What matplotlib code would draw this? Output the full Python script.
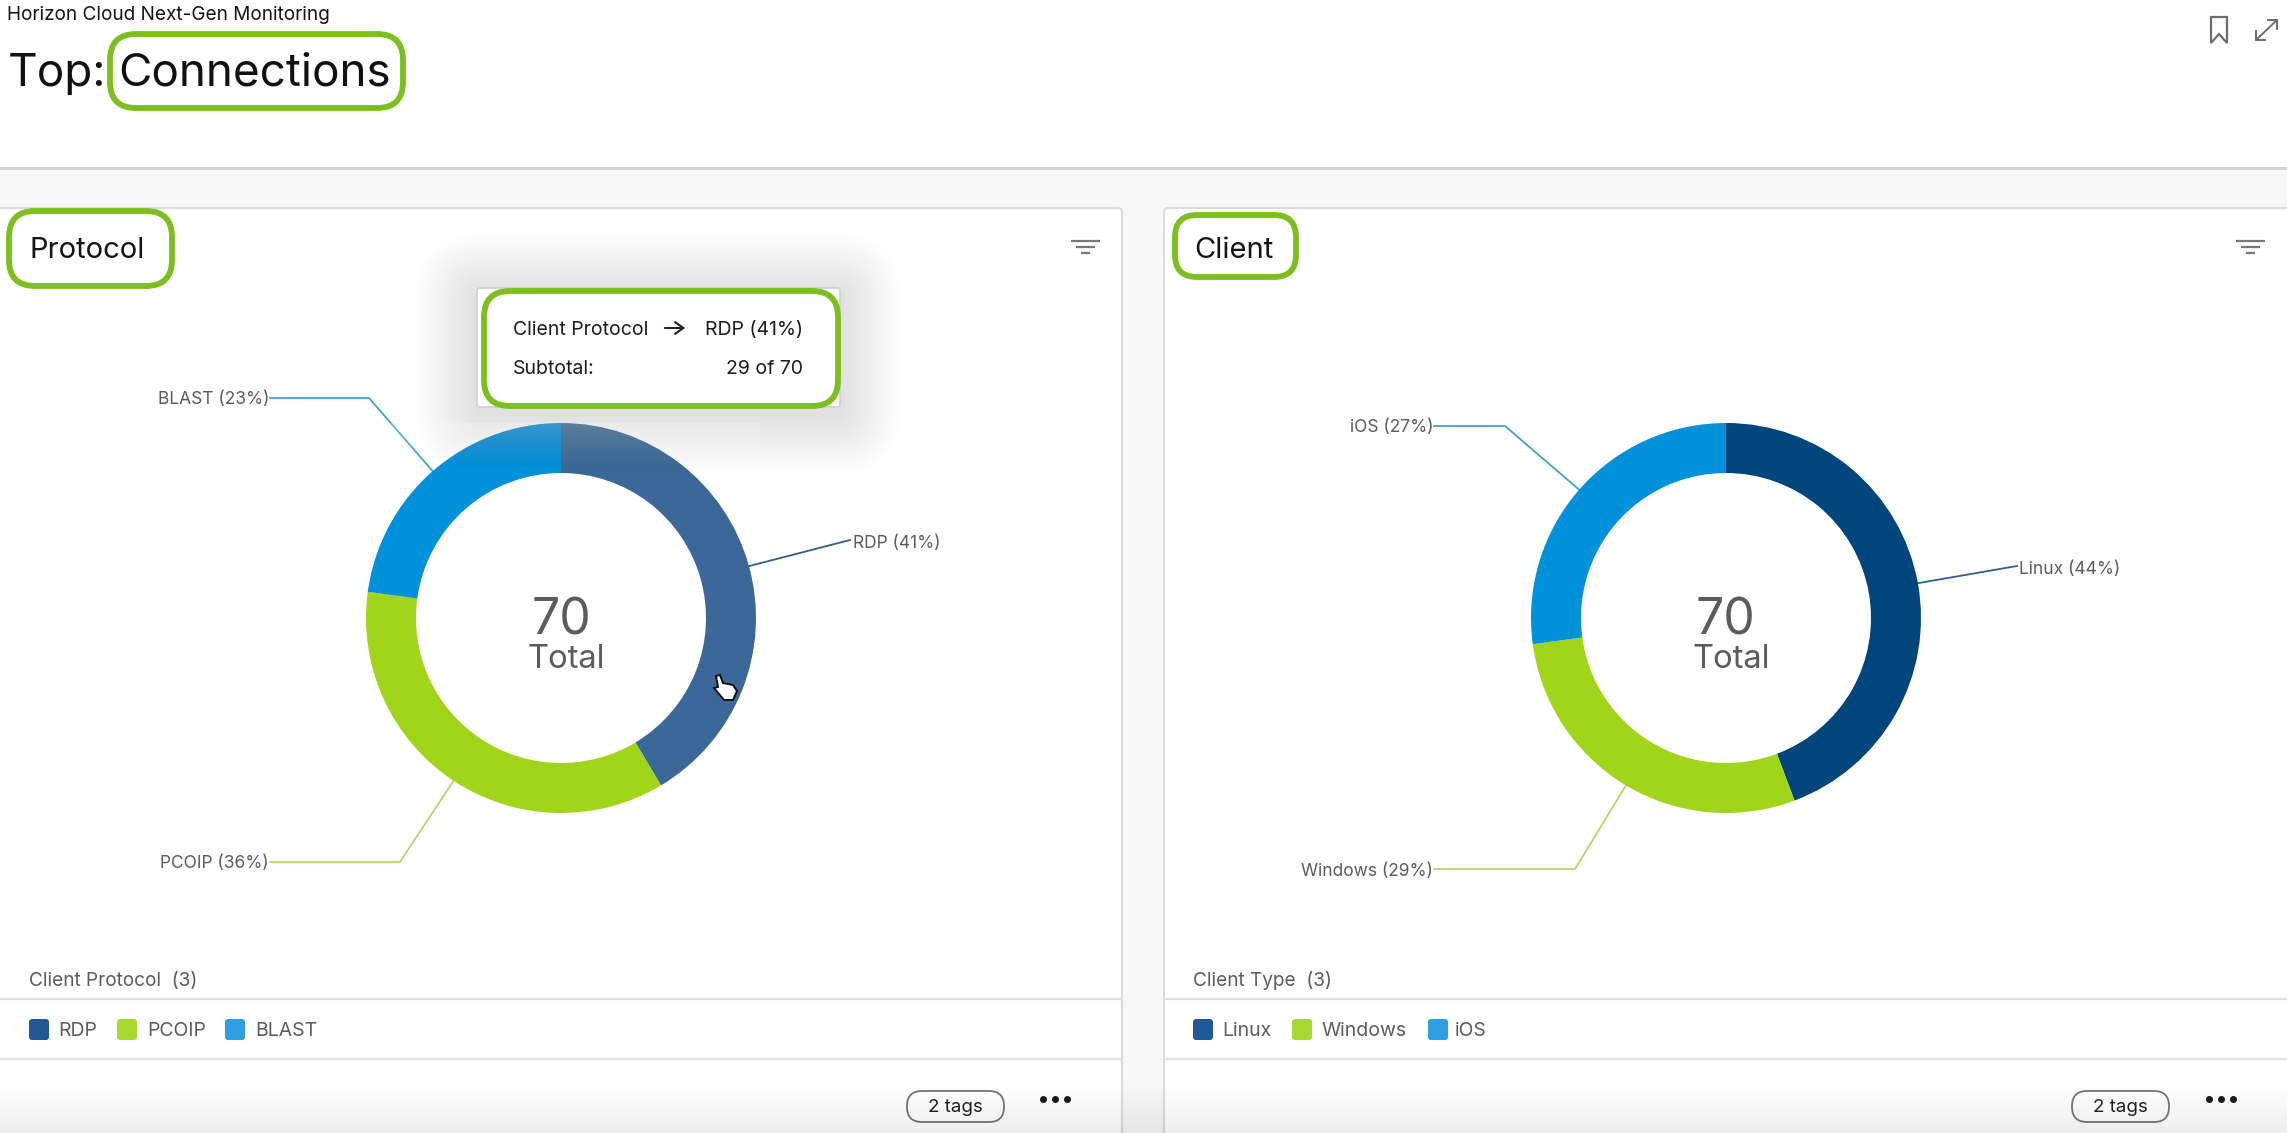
import numpy as np
import matplotlib
matplotlib.use('Agg')
import matplotlib.pyplot as plt
from matplotlib.patches import FancyBboxPatch, Rectangle, Polygon

plt.rcParams['font.family'] = ['Inter', 'DejaVu Sans']

# --- DATA ---
protocol_names = ['RDP', 'PCOIP', 'BLAST']
protocol_values = [29, 25, 16]
protocol_pcts = [41, 36, 23]
client_names = ['Linux', 'Windows', 'iOS']
client_values = [31, 20, 19]
client_pcts = [44, 29, 27]
total = 70

# --- CONFIGURATION ---
W, H = 2287, 1133
GREEN = '#7cbf1e'
GREY = '#5c5c5c'
OUTER_R = 195
INNER_R = 145

fig = plt.figure(figsize=(W / 100, H / 100), dpi=100, facecolor='white')


def px_axes(z):
    """Full figure axes that work in image pixels"""
    a = fig.add_axes([0, 0, 1, 1], zorder=z)
    a.set_xlim(0, W)
    a.set_ylim(H, 0)
    a.axis('off')
    a.patch.set_alpha(0)
    return a


base = px_axes(0)
top = px_axes(2)


def rbox(a, x0, y0, x1, y1, r, **kw):
    p = FancyBboxPatch((x0 + r, y0 + r), x1 - x0 - 2 * r, y1 - y0 - 2 * r,
                       boxstyle='round,pad=%f,rounding_size=%f' % (r, r), **kw)
    a.add_patch(p)
    return p


def green_box(x0, y0, x1, y1, r=24):
    rbox(top, x0, y0, x1, y1, r, fc='none', ec=GREEN, lw=4.2, zorder=8)


def filter_icon(x, y):
    for dy, x0, x1 in [(0, 0, 29), (6, 5, 24), (12, 10, 19)]:
        top.plot([x + x0, x + x1], [y + dy, y + dy], color='#777777', lw=1.6, solid_capstyle='butt')


def donut(cx, cy, values, colors):
    a = fig.add_axes([(cx - OUTER_R) / W, 1 - (cy + OUTER_R) / H, 2 * OUTER_R / W, 2 * OUTER_R / H], zorder=1)
    wedges, _ = a.pie(values, colors=colors, startangle=90, counterclock=False, radius=1,
                      wedgeprops={'width': (OUTER_R - INNER_R) / OUTER_R, 'linewidth': 0})
    a.set_xlim(-1, 1)
    a.set_ylim(-1, 1)
    a.patch.set_alpha(0)
    return wedges


def leader(wedge, cx, cy, color, elbow, end):
    """Line from the outer rim at the middle of a slice out to its label"""
    mid = np.deg2rad((wedge.theta1 + wedge.theta2) / 2)
    sx, sy = cx + OUTER_R * np.cos(mid), cy - OUTER_R * np.sin(mid)
    pts = [(sx, sy)] + ([elbow] if elbow else []) + [end]
    base.plot([p[0] for p in pts], [p[1] for p in pts], color=color, lw=1.3, zorder=3)


def panel(x0, x1, title, title_x, cx, names, values, pcts, colors, swatch_colors, leaders,
          axis_label, text_x, swatch_x, label_x, pill_x, dots_x, icon_x):
    rbox(base, x0, 208, x1, 1160, 4, fc='white', ec='#dcdcdc', lw=1.5, zorder=1)
    top.text(title_x, 251, title, fontsize=21, color='#151515', va='center', ha='left')
    filter_icon(icon_x, 241)

    wedges = donut(cx, 618, values, colors)
    for w, name, pct, (color, elbow, end, lx, ha, ly) in zip(wedges, names, pcts, leaders):
        leader(w, cx, 618, color, elbow, end)
        base.text(lx, ly + 2, '%s (%d%%)' % (name, pct), fontsize=12.5, color=GREY, ha=ha, va='center', zorder=4)

    top.text(cx, 621, str(total), fontsize=36, color=GREY, ha='center', va='center', zorder=6)
    top.text(cx + 5, 660, 'Total', fontsize=23.5, color=GREY, ha='center', va='center', zorder=6)

    base.text(text_x, 981, axis_label, fontsize=13.7, color=GREY, va='center', zorder=4)
    for y in (999, 1059):
        base.plot([x0, x1], [y, y], color='#e2e2e2', lw=1.6, zorder=3)
    for sx, lx, name, c in zip(swatch_x, label_x, names, swatch_colors):
        rbox(base, sx, 1019, sx + 20, 1040, 3, fc=c, ec='none', zorder=4)
        base.text(lx, 1031, name, fontsize=14, color=GREY, va='center', zorder=4)

    rbox(base, pill_x, 1091, pill_x + 97, 1122, 15, fc='white', ec='#777777', lw=1.3, zorder=4)
    base.text(pill_x + 48, 1108, '2 tags', fontsize=13.5, color='#222222', ha='center', va='center', zorder=5)
    base.scatter(dots_x, [1099] * 3, s=16, color='#1a1a1a', zorder=5)


# --- PAGE ---
base.add_patch(Rectangle((0, 168), W, H - 168, fc='#f8f8f8', ec='none', zorder=0))
base.plot([0, W], [168, 168], color='#d4d4d4', lw=2.2, zorder=1)

base.text(7, 15, 'Horizon Cloud Next-Gen Monitoring', fontsize=13.7, color='#151515', va='center')
base.text(8, 74, 'Top:', fontsize=33, color='#111111', va='center')
base.text(118, 74, 'Connections', fontsize=33, color='#111111', va='center')
green_box(110, 34, 403, 108, 26)

# bookmark and expand icons
base.add_patch(Polygon([(2211, 17), (2227, 17), (2227, 43), (2219, 34), (2211, 43)], closed=True,
                       fc='none', ec='#6e6e6e', lw=1.6))
base.plot([2256, 2277], [40, 20], color='#6e6e6e', lw=1.4)
base.plot([2268, 2277, 2277], [20, 20, 29], color='#6e6e6e', lw=1.4)
base.plot([2256, 2256, 2265], [31, 40, 40], color='#6e6e6e', lw=1.4)

panel(-10, 1122, 'Protocol', 29, 561, protocol_names, protocol_values, protocol_pcts,
      ['#3b6899', '#a0d51a', '#0091da'], ['#1f5a96', '#a8d92f', '#2f9fe3'],
      [('#2f5f8f', None, (850, 540), 853, 'left', 541),
       ('#b4d96a', (400, 862), (270, 862), 269, 'right', 862),
       ('#3f9fd4', (369, 398), (270, 398), 269, 'right', 398)],
      'Client Protocol  (3)', 29, [29, 117, 225], [58, 147, 255], 907, [1043, 1055, 1067], 1071)

panel(1164, W + 10, 'Client', 1194, 1726, client_names, client_values, client_pcts,
      ['#00457c', '#a0d51a', '#0091da'], ['#1f5a96', '#a8d92f', '#2f9fe3'],
      [('#2f5f8f', None, (2017, 566), 2019, 'left', 567),
       ('#b4d96a', (1575, 869), (1434, 869), 1433, 'right', 869),
       ('#3f9fd4', (1505, 426), (1434, 426), 1433, 'right', 426)],
      'Client Type  (3)', 1193, [1193, 1292, 1428], [1222, 1321, 1455], 2072, [2209, 2221, 2233], 2236)

green_box(9, 211, 172, 286, 26)
green_box(1175, 215, 1296, 277, 22)

# soft fade along the bottom of the page
fade = np.linspace(0, 0.07, 50)[:, None]
base.imshow(np.dstack([np.zeros_like(fade)] * 3 + [fade]), extent=(0, W, H, H - 50), aspect='auto', zorder=6)
base.set_xlim(0, W)
base.set_ylim(H, 0)

# --- TOOLTIP ---
for grow in range(4, 64, 4):
    rbox(top, 477 - grow, 288 - grow + 6, 840 + grow, 407 + grow + 6, 6 + grow,
         fc='black', ec='none', alpha=0.0065, zorder=3)
# the glow also lightens the top of the ring
glow = np.linspace(0.22, 0, 45)[:, None]
top.imshow(np.dstack([np.ones_like(glow)] * 3 + [glow]), extent=(365, 760, 468, 423), aspect='auto', zorder=3.5)
top.set_xlim(0, W)
top.set_ylim(H, 0)
rbox(top, 477, 288, 840, 407, 3, fc='white', ec='#d0d0d0', lw=1.2, zorder=4)
green_box(484, 291, 838, 406, 26)
top.text(513, 330, 'Client Protocol', fontsize=14, color='#1c1c1c', va='center', zorder=6)
top.annotate('', xy=(688, 328), xytext=(662, 328), zorder=6,
             arrowprops={'arrowstyle': '->,head_width=0.42,head_length=0.6', 'color': '#222222', 'lw': 1.5})
top.text(803, 330, 'RDP (41%)', fontsize=14, color='#1c1c1c', va='center', ha='right', zorder=6)
top.text(513, 369, 'Subtotal:', fontsize=14, color='#1c1c1c', va='center', zorder=6)
top.text(803, 369, '29 of 70', fontsize=14, color='#1c1c1c', va='center', ha='right', zorder=6)

# mouse pointer
top.add_patch(Polygon([(716, 676), (720, 675), (723, 683), (733, 685), (737, 691), (733, 700),
                       (724, 700), (714, 688), (718, 687)], closed=True, fc='white', ec='#111111', lw=1.4, zorder=7))

fig.savefig('out.png', dpi=100, facecolor='white')
